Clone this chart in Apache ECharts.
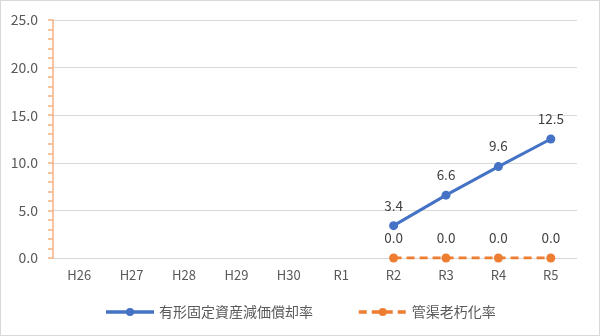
<!DOCTYPE html>
<html><head><meta charset="utf-8">
<script src="https://cdn.jsdelivr.net/npm/echarts@6/dist/echarts.min.js"></script>
<style>html,body{margin:0;padding:0;background:#fff}#c{width:598px;height:334px;border:1px solid #d9d9d9}</style>
</head><body><div id="c"></div>
<script>
const categories = ['H26','H27','H28','H29','H30','R1','R2','R3','R4','R5'];
const depreciationRate = [null,null,null,null,null,null,3.4,6.6,9.6,12.5];
const pipeAgingRate = [null,null,null,null,null,null,0.0,0.0,0.0,0.0];
const seriesNames = ['有形固定資産減価償却率','管渠老朽化率'];

const chart = echarts.init(document.getElementById('c'));
const font = '"Noto Sans CJK JP","Noto Sans",sans-serif';
chart.setOption({
  animation:false,
  textStyle:{fontFamily:font},
  grid:{left:52,right:22,top:19,bottom:77},
  legend:{bottom:11,itemGap:44,itemWidth:48,itemHeight:10,
    lineStyle:{width:3.5},
    textStyle:{color:'#595959',fontSize:14,fontFamily:font},
    data:seriesNames},
  xAxis:{type:'category',data:categories,
    axisLine:{show:false},axisTick:{show:false},
    axisLabel:{color:'#595959',fontSize:13,margin:11}},
  yAxis:{type:'value',min:0,max:25,interval:5,
    axisLine:{show:true,lineStyle:{color:'#f4b183',width:1.5}},
    axisTick:{show:true,length:5,lineStyle:{color:'#f4b183',width:1.5}},
    minorTick:{show:true,splitNumber:5,length:5,lineStyle:{color:'#f4b183',width:1.5}},
    splitLine:{lineStyle:{color:'#d9d9d9'}},
    axisLabel:{color:'#595959',fontSize:14,margin:15,formatter:v=>v.toFixed(1)}},
  series:[
    {name:seriesNames[0],type:'line',data:depreciationRate,
     symbol:'circle',symbolSize:9,
     itemStyle:{color:'#4472c4'},lineStyle:{color:'#4472c4',width:3},
     label:{show:true,position:'top',distance:9,color:'#404040',fontSize:13.5,formatter:p=>p.value.toFixed(1)}},
    {name:seriesNames[1],type:'line',data:pipeAgingRate,
     symbol:'circle',symbolSize:9,
     itemStyle:{color:'#ed7d31'},lineStyle:{color:'#ed7d31',width:3,type:[8,5]},
     label:{show:true,position:'top',distance:9,color:'#404040',fontSize:13.5,formatter:p=>p.value.toFixed(1)}}
  ]
});
</script></body></html>
